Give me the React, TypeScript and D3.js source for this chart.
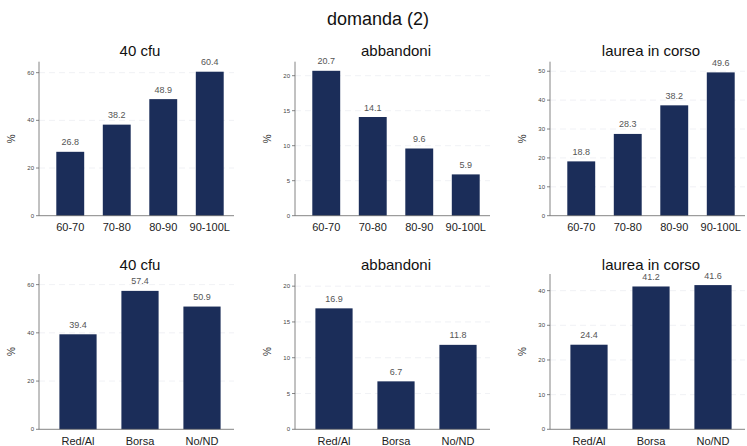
import React from "react";
import * as d3 from "d3";

const mainTitle = "domanda (2)";
const panelTitles = ["40 cfu", "abbandoni", "laurea in corso", "40 cfu", "abbandoni", "laurea in corso"];
const voteCategories = ["60-70", "70-80", "80-90", "90-100L"];
const grantCategories = ["Red/Al", "Borsa", "No/ND"];
const cfuByVote = [26.8, 38.2, 48.9, 60.4];
const dropByVote = [20.7, 14.1, 9.6, 5.9];
const onTimeByVote = [18.8, 28.3, 38.2, 49.6];
const cfuByGrant = [39.4, 57.4, 50.9];
const dropByGrant = [16.9, 6.7, 11.8];
const onTimeByGrant = [24.4, 41.2, 41.6];
const yTicks1 = [0, 20, 40, 60];
const yTicks2 = [0, 5, 10, 15, 20];
const yTicks3 = [0, 10, 20, 30, 40, 50];
const yTicks6 = [0, 10, 20, 30, 40];
const yMaxes = [64.6, 22, 53.3, 64.4, 21.7, 44.8];

const W = 747;
const H = 446;
const BAR = "#1b2d59";
const FONT = "'Liberation Sans', Arial, sans-serif";

type Panel = {
  title: string;
  cats: string[];
  vals: number[];
  ticks: number[];
  yMax: number;
  axisX: number;
  y0: number;
  yTop: number;
  titleY: number;
  catY: number;
};

const axisXs = [39, 295, 550];
const rowGeom = [
  { y0: 215.7, yTop: 61.7, titleY: 56, catY: 231 },
  { y0: 429.3, yTop: 274, titleY: 270, catY: 445 },
];

const data = [
  [voteCategories, cfuByVote, yTicks1],
  [voteCategories, dropByVote, yTicks2],
  [voteCategories, onTimeByVote, yTicks3],
  [grantCategories, cfuByGrant, yTicks1],
  [grantCategories, dropByGrant, yTicks2],
  [grantCategories, onTimeByGrant, yTicks6],
] as [string[], number[], number[]][];

const panels: Panel[] = data.map(([cats, vals, ticks], i) => {
  const row = rowGeom[Math.floor(i / 3)];
  return {
    title: panelTitles[i],
    cats,
    vals,
    ticks,
    yMax: yMaxes[i],
    axisX: axisXs[i % 3],
    ...row,
  };
});

function PanelView({ p }: { p: Panel }) {
  const x = d3
    .scaleBand<string>()
    .domain(p.cats)
    .range([p.axisX + 8, p.axisX + 194])
    .paddingInner(0.4)
    .paddingOuter(0.2);
  const y = d3.scaleLinear().domain([0, p.yMax]).range([p.y0, p.yTop]);
  const right = p.axisX + 195;
  const center = p.axisX + 101;
  return (
    <g>
      {p.ticks.map((t) =>
        t === 0 ? null : (
          <line
            key={"g" + t}
            x1={p.axisX}
            x2={right}
            y1={y(t)}
            y2={y(t)}
            stroke="#eceef3"
            strokeWidth={0.8}
            strokeDasharray="6 4"
          />
        )
      )}
      {p.vals.map((v, i) => (
        <g key={p.cats[i]}>
          <rect
            x={x(p.cats[i])}
            y={y(v)}
            width={x.bandwidth()}
            height={p.y0 - y(v)}
            fill={BAR}
          />
          <text
            x={(x(p.cats[i]) as number) + x.bandwidth() / 2}
            y={y(v) - 6.5}
            textAnchor="middle"
            fontSize={9}
            fill="#555"
          >
            {v.toFixed(1)}
          </text>
          <text
            x={(x(p.cats[i]) as number) + x.bandwidth() / 2}
            y={p.catY}
            textAnchor="middle"
            fontSize={11}
            fill="#222"
          >
            {p.cats[i]}
          </text>
        </g>
      ))}
      <line x1={p.axisX} x2={p.axisX} y1={p.yTop} y2={p.y0} stroke="#666" strokeWidth={0.8} />
      <line x1={p.axisX} x2={right} y1={p.y0} y2={p.y0} stroke="#666" strokeWidth={0.8} />
      {p.ticks.map((t) => (
        <g key={"t" + t}>
          <line x1={p.axisX - 3} x2={p.axisX} y1={y(t)} y2={y(t)} stroke="#666" strokeWidth={0.8} />
          <text x={p.axisX - 5} y={y(t) + 2} textAnchor="end" fontSize={6} fill="#444">
            {t}
          </text>
        </g>
      ))}
      <text
        transform={`translate(${p.axisX - 24},${(p.y0 + p.yTop) / 2}) rotate(-90)`}
        textAnchor="middle"
        fontSize={10}
        fill="#333"
      >
        %
      </text>
      <text x={center} y={p.titleY} textAnchor="middle" fontSize={15} fill="#111">
        {p.title}
      </text>
    </g>
  );
}

export default function App() {
  return (
    <svg
      width={W}
      height={H}
      style={{ position: "absolute", left: 0, top: 0, background: "#fff", fontFamily: FONT }}
    >
      <rect width={W} height={H} fill="#fff" />
      <text x={378} y={25} textAnchor="middle" fontSize={18} fill="#111">
        {mainTitle}
      </text>
      {panels.map((p, i) => (
        <PanelView key={i} p={p} />
      ))}
    </svg>
  );
}
